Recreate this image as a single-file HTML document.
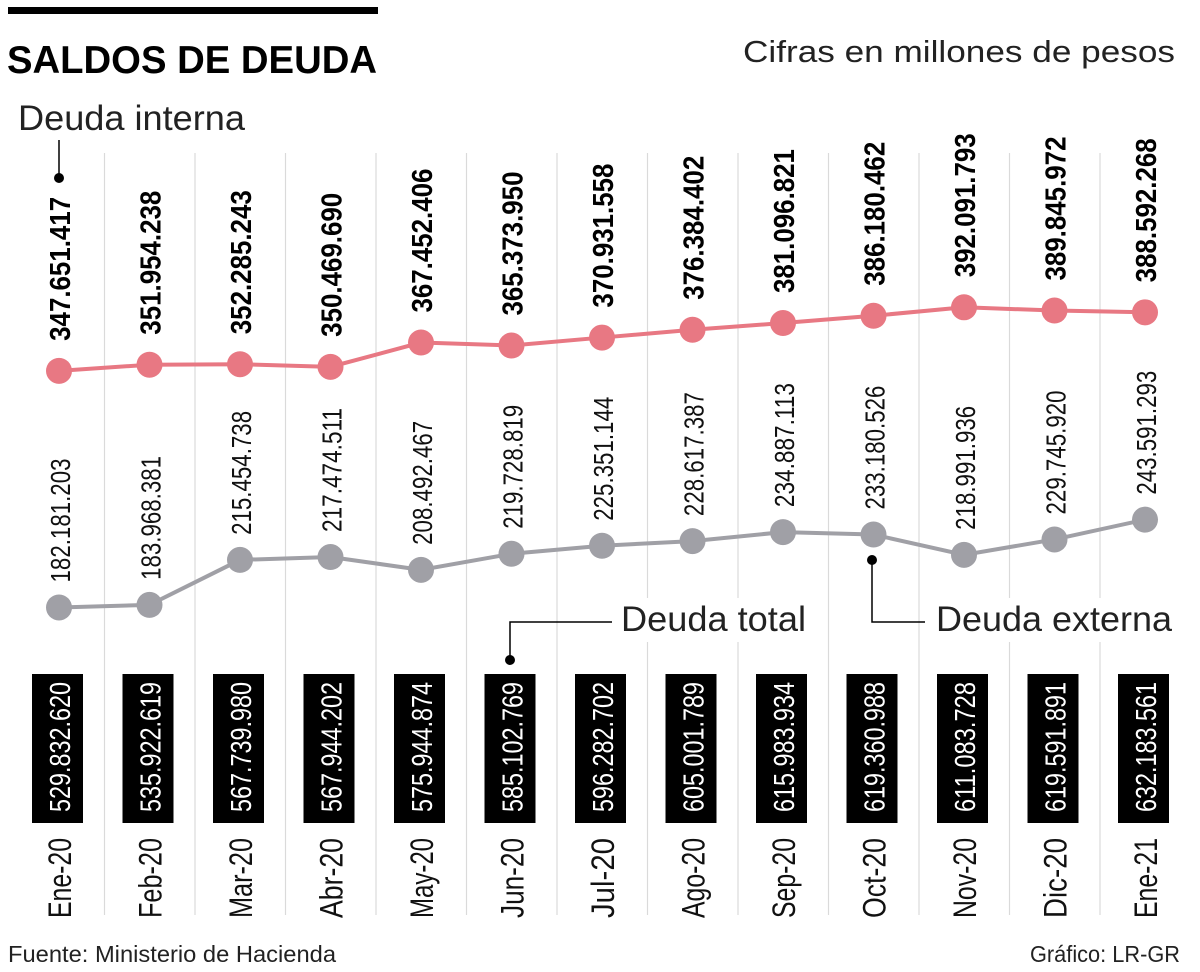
<!DOCTYPE html>
<html><head><meta charset="utf-8"><style>
html,body{margin:0;padding:0;background:#fff;width:1200px;height:972px;overflow:hidden}
svg{display:block;font-family:"Liberation Sans",sans-serif}
</style></head><body>
<svg id="chart" width="1200" height="972" viewBox="0 0 1200 972">
<rect x="8" y="7" width="370" height="7" fill="#000"/>
<text x="7" y="73" font-size="39" font-weight="bold" textLength="370" lengthAdjust="spacingAndGlyphs">SALDOS DE DEUDA</text>
<text x="1175" y="62" font-size="31" text-anchor="end" fill="#222" textLength="432" lengthAdjust="spacingAndGlyphs">Cifras en millones de pesos</text>
<g id="grid"></g>
<g id="series"></g>
<text x="18" y="130" font-size="35" fill="#222" textLength="227" lengthAdjust="spacingAndGlyphs">Deuda interna</text>
<line x1="59" y1="140" x2="59" y2="178" stroke="#000" stroke-width="1.5"/>
<circle cx="59" cy="178" r="5" fill="#000"/>
<rect x="605" y="598" width="210" height="44" fill="#fff"/>
<rect x="930" y="598" width="250" height="44" fill="#fff"/>
<text x="621" y="631" font-size="35" fill="#222" textLength="185" lengthAdjust="spacingAndGlyphs">Deuda total</text>
<polyline points="510,660 510,622 612,622" fill="none" stroke="#000" stroke-width="1.5"/>
<circle cx="510" cy="660" r="5" fill="#000"/>
<text x="936" y="631" font-size="35" fill="#222" textLength="236" lengthAdjust="spacingAndGlyphs">Deuda externa</text>
<polyline points="872,560 872,622 925,622" fill="none" stroke="#000" stroke-width="1.5"/>
<circle cx="872" cy="560" r="5" fill="#000"/>
<text x="8" y="962" font-size="23" fill="#222" textLength="328" lengthAdjust="spacingAndGlyphs">Fuente: Ministerio de Hacienda</text>
<text x="1180" y="962" font-size="23" fill="#222" text-anchor="end" textLength="150" lengthAdjust="spacingAndGlyphs">Gráfico: LR-GR</text>
</svg>
<script>
const months=["Ene-20","Feb-20","Mar-20","Abr-20","May-20","Jun-20","Jul-20","Ago-20","Sep-20","Oct-20","Nov-20","Dic-20","Ene-21"];
const interna=[347651417,351954238,352285243,350469690,367452406,365373950,370931558,376384402,381096821,386180462,392091793,389845972,388592268];
const externa=[182181203,183968381,215454738,217474511,208492467,219728819,225351144,228617387,234887113,233180526,218991936,229745920,243591293];
const total=[529832620,535922619,567739980,567944202,575944874,585102769,596282702,605001789,615983934,619360988,611083728,619591891,632183561];
const NS="http://www.w3.org/2000/svg";
const x=i=>59+i*90.5;
const y=v=>868-(v/1e6)*1.43;
const fmt=v=>String(v).replace(/\B(?=(\d{3})+(?!\d))/g,".");
function mk(tag,attrs,parent){const e=document.createElementNS(NS,tag);for(const k in attrs)e.setAttribute(k,attrs[k]);parent.appendChild(e);return e;}
const grid=document.getElementById('grid'),ser=document.getElementById('series');
for(let i=0;i<12;i++){
  const g=mk('line',{x1:x(i)+45.5,x2:x(i)+45.5,y1:153,y2:915,stroke:'#dadada','stroke-width':1.2},grid);
  
  
}
function line(vals,color,name){
  const p=mk('polyline',{points:vals.map((v,i)=>x(i)+','+y(v)).join(' '),fill:'none',stroke:color,'stroke-width':4},ser);
  
  
  vals.forEach((v,i)=>{
    const c=mk('circle',{cx:x(i),cy:y(v),r:13,fill:color},ser);
    
    
  });
}
line(interna,'#e87883','interna');
line(externa,'#a0a0a6','externa');
months.forEach((m,i)=>{
  const cx=x(i);
  let yy=y(interna[i])-30;
  const t1=mk('text',{x:0,y:0,transform:`translate(${cx+11},${yy}) rotate(-90)`,'font-size':29,'font-weight':'bold',textLength:144,lengthAdjust:'spacingAndGlyphs'},ser);
  t1.textContent=fmt(interna[i]);
  
  
  yy=y(externa[i])-25;
  const t2=mk('text',{x:0,y:0,transform:`translate(${cx+11},${yy}) rotate(-90)`,'font-size':28,fill:'#111',textLength:124,lengthAdjust:'spacingAndGlyphs'},ser);
  t2.textContent=fmt(externa[i]);
  
  
  const b=mk('rect',{x:cx-27,y:674,width:51,height:149,fill:'#000'},ser);
  
  
  const t3=mk('text',{x:0,y:0,transform:`translate(${cx+11},${812}) rotate(-90)`,'font-size':29,fill:'#fff',textLength:130,lengthAdjust:'spacingAndGlyphs'},ser);
  t3.textContent=fmt(total[i]);
  
  
  const t4=mk('text',{x:0,y:0,transform:`translate(${cx+12},${918}) rotate(-90)`,'font-size':32,fill:'#111',textLength:80,lengthAdjust:'spacingAndGlyphs'},ser);
  t4.textContent=m;
  
  
});
</script>
</body></html>
